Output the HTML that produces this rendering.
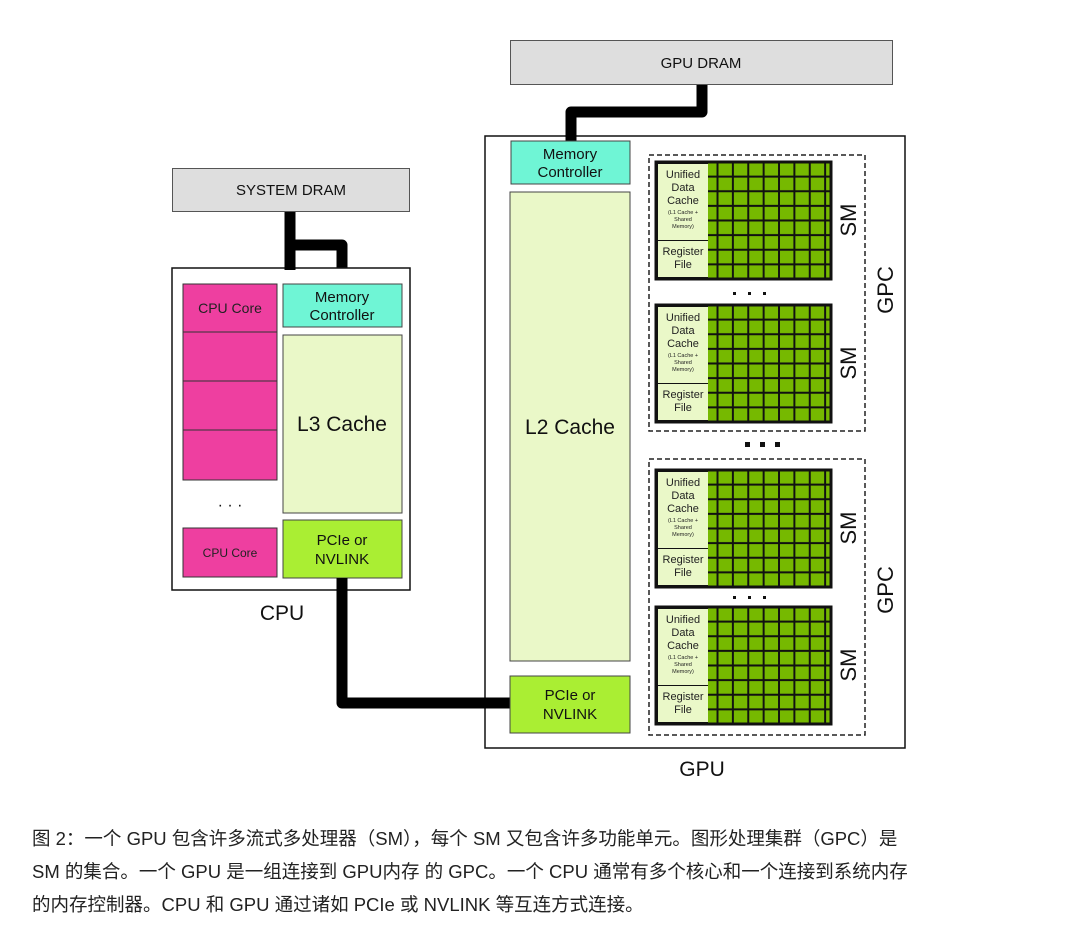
<!DOCTYPE html>
<html><head><meta charset="utf-8"><style>
body{margin:0;background:#fff;width:1080px;height:925px;overflow:hidden;font-family:"Liberation Sans","DejaVu Sans",sans-serif}
.cap{position:absolute;left:32px;top:822px;font-size:18.5px;line-height:33px;color:#222;font-family:"Liberation Sans","Noto Sans CJK SC",sans-serif}
</style></head><body>
<svg width="1080" height="925" style="position:absolute;left:0;top:0" font-family="Liberation Sans, DejaVu Sans, sans-serif">
<defs>
<pattern id="g" patternUnits="userSpaceOnUse" x="0" y="0" width="15.375" height="14.625">
<rect width="15.375" height="14.625" fill="#111"/>
<rect x="1" y="1" width="13.4" height="12.6" fill="#76b900"/>
</pattern>
<g id="sm">
<rect x="0" y="0" width="175" height="117" fill="#111"/>
<rect x="52" y="0" width="123" height="117" fill="url(#g)"/>
<rect x="2" y="2" width="50" height="76" fill="#eaf8c8"/>
<rect x="2" y="79" width="50" height="36" fill="#eaf8c8"/>
<rect x="0" y="0" width="175" height="117" fill="none" stroke="#111" stroke-width="3"/>
<text x="27" y="16" font-size="11" text-anchor="middle" fill="#222">Unified</text>
<text x="27" y="29" font-size="11" text-anchor="middle" fill="#222">Data</text>
<text x="27" y="42" font-size="11" text-anchor="middle" fill="#222">Cache</text>
<text x="27" y="52" font-size="5.5" text-anchor="middle" fill="#222">(L1 Cache +</text>
<text x="27" y="59" font-size="5.5" text-anchor="middle" fill="#222">Shared</text>
<text x="27" y="66" font-size="5.5" text-anchor="middle" fill="#222">Memory)</text>
<text x="27" y="93" font-size="11" text-anchor="middle" fill="#222">Register</text>
<text x="27" y="106" font-size="11" text-anchor="middle" fill="#222">File</text>
</g>
</defs>
<!-- connectors -->
<path d="M702 85 V112 H571 V141" fill="none" stroke="#000" stroke-width="11" stroke-linejoin="round"/>
<path d="M290 211 V245 H342 V284" fill="none" stroke="#000" stroke-width="11" stroke-linejoin="round"/>

<!-- DRAMs -->
<rect x="510.5" y="40.5" width="382" height="44" fill="#dedede" stroke="#555"/>
<text x="701" y="68" font-size="15" text-anchor="middle" fill="#111">GPU DRAM</text>
<rect x="172.5" y="168.5" width="237" height="43" fill="#dedede" stroke="#555"/>
<text x="291" y="195" font-size="15" text-anchor="middle" fill="#111">SYSTEM DRAM</text>

<!-- CPU -->
<rect x="172" y="268" width="238" height="322" fill="#fff" stroke="#111" stroke-width="1.5"/>
<path d="M290 245 V270" stroke="#000" stroke-width="11"/>
<rect x="183" y="284" width="94" height="196" fill="#ee3fa0" stroke="#333"/>
<path d="M183 332H277M183 381H277M183 430H277" stroke="#333"/>
<text x="230" y="313" font-size="14" text-anchor="middle" fill="#222">CPU Core</text>
<text x="230" y="510" font-size="16" text-anchor="middle" fill="#111">· · ·</text>
<rect x="183" y="528" width="94" height="49" fill="#ee3fa0" stroke="#333"/>
<text x="230" y="557" font-size="12" text-anchor="middle" fill="#222">CPU Core</text>
<rect x="283" y="284" width="119" height="43" fill="#6ff5d5" stroke="#444"/>
<text x="342" y="302" font-size="15" text-anchor="middle" fill="#111">Memory</text>
<text x="342" y="320" font-size="15" text-anchor="middle" fill="#111">Controller</text>
<rect x="283" y="335" width="119" height="178" fill="#eaf8c8" stroke="#444"/>
<text x="342" y="431" font-size="21" text-anchor="middle" fill="#111">L3 Cache</text>
<rect x="283" y="520" width="119" height="58" fill="#aaee33" stroke="#444"/>
<text x="342" y="545" font-size="15" text-anchor="middle" fill="#111">PCIe or</text>
<text x="342" y="564" font-size="15" text-anchor="middle" fill="#111">NVLINK</text>
<text x="282" y="620" font-size="21" text-anchor="middle" fill="#111">CPU</text>

<!-- GPU -->
<rect x="485" y="136" width="420" height="612" fill="#fff" stroke="#111" stroke-width="1.5"/>
<path d="M342 578 V703 H512" fill="none" stroke="#000" stroke-width="11" stroke-linejoin="round"/>
<path d="M571 130 V142" stroke="#000" stroke-width="11"/>
<rect x="511" y="141" width="119" height="43" fill="#6ff5d5" stroke="#444"/>
<text x="570" y="159" font-size="15" text-anchor="middle" fill="#111">Memory</text>
<text x="570" y="177" font-size="15" text-anchor="middle" fill="#111">Controller</text>
<rect x="510" y="192" width="120" height="469" fill="#eaf8c8" stroke="#444"/>
<text x="570" y="434" font-size="21" text-anchor="middle" fill="#111">L2 Cache</text>
<rect x="510" y="676" width="120" height="57" fill="#aaee33" stroke="#444"/>
<text x="570" y="700" font-size="15" text-anchor="middle" fill="#111">PCIe or</text>
<text x="570" y="719" font-size="15" text-anchor="middle" fill="#111">NVLINK</text>
<text x="702" y="776" font-size="21" text-anchor="middle" fill="#111">GPU</text>

<rect x="649" y="155" width="216" height="276" fill="none" stroke="#222" stroke-width="1.5" stroke-dasharray="5,3"/>
<rect x="649" y="459" width="216" height="276" fill="none" stroke="#222" stroke-width="1.5" stroke-dasharray="5,3"/>
<use href="#sm" x="656" y="162"/>
<use href="#sm" x="656" y="305"/>
<use href="#sm" x="656" y="470"/>
<use href="#sm" x="656" y="607"/>
<text transform="translate(856,220) rotate(-90)" font-size="22" text-anchor="middle" fill="#111">SM</text>
<text transform="translate(856,363) rotate(-90)" font-size="22" text-anchor="middle" fill="#111">SM</text>
<text transform="translate(856,528) rotate(-90)" font-size="22" text-anchor="middle" fill="#111">SM</text>
<text transform="translate(856,665) rotate(-90)" font-size="22" text-anchor="middle" fill="#111">SM</text>
<text transform="translate(893,290) rotate(-90)" font-size="22" text-anchor="middle" fill="#111">GPC</text>
<text transform="translate(893,590) rotate(-90)" font-size="22" text-anchor="middle" fill="#111">GPC</text>
<g fill="#111">
<rect x="733" y="292" width="3" height="3"/><rect x="748" y="292" width="3" height="3"/><rect x="763" y="292" width="3" height="3"/>
<rect x="733" y="596" width="3" height="3"/><rect x="748" y="596" width="3" height="3"/><rect x="763" y="596" width="3" height="3"/>
<rect x="745" y="442" width="5" height="5"/><rect x="760" y="442" width="5" height="5"/><rect x="775" y="442" width="5" height="5"/>
</g>
</svg>
<div class="cap">图 2：一个 GPU 包含许多流式多处理器（SM），每个 SM 又包含许多功能单元。图形处理集群（GPC）是<br>SM 的集合。一个 GPU 是一组连接到 GPU内存 的 GPC。一个 CPU 通常有多个核心和一个连接到系统内存<br>的内存控制器。CPU 和 GPU 通过诸如 PCIe 或 NVLINK 等互连方式连接。</div>
</body></html>
